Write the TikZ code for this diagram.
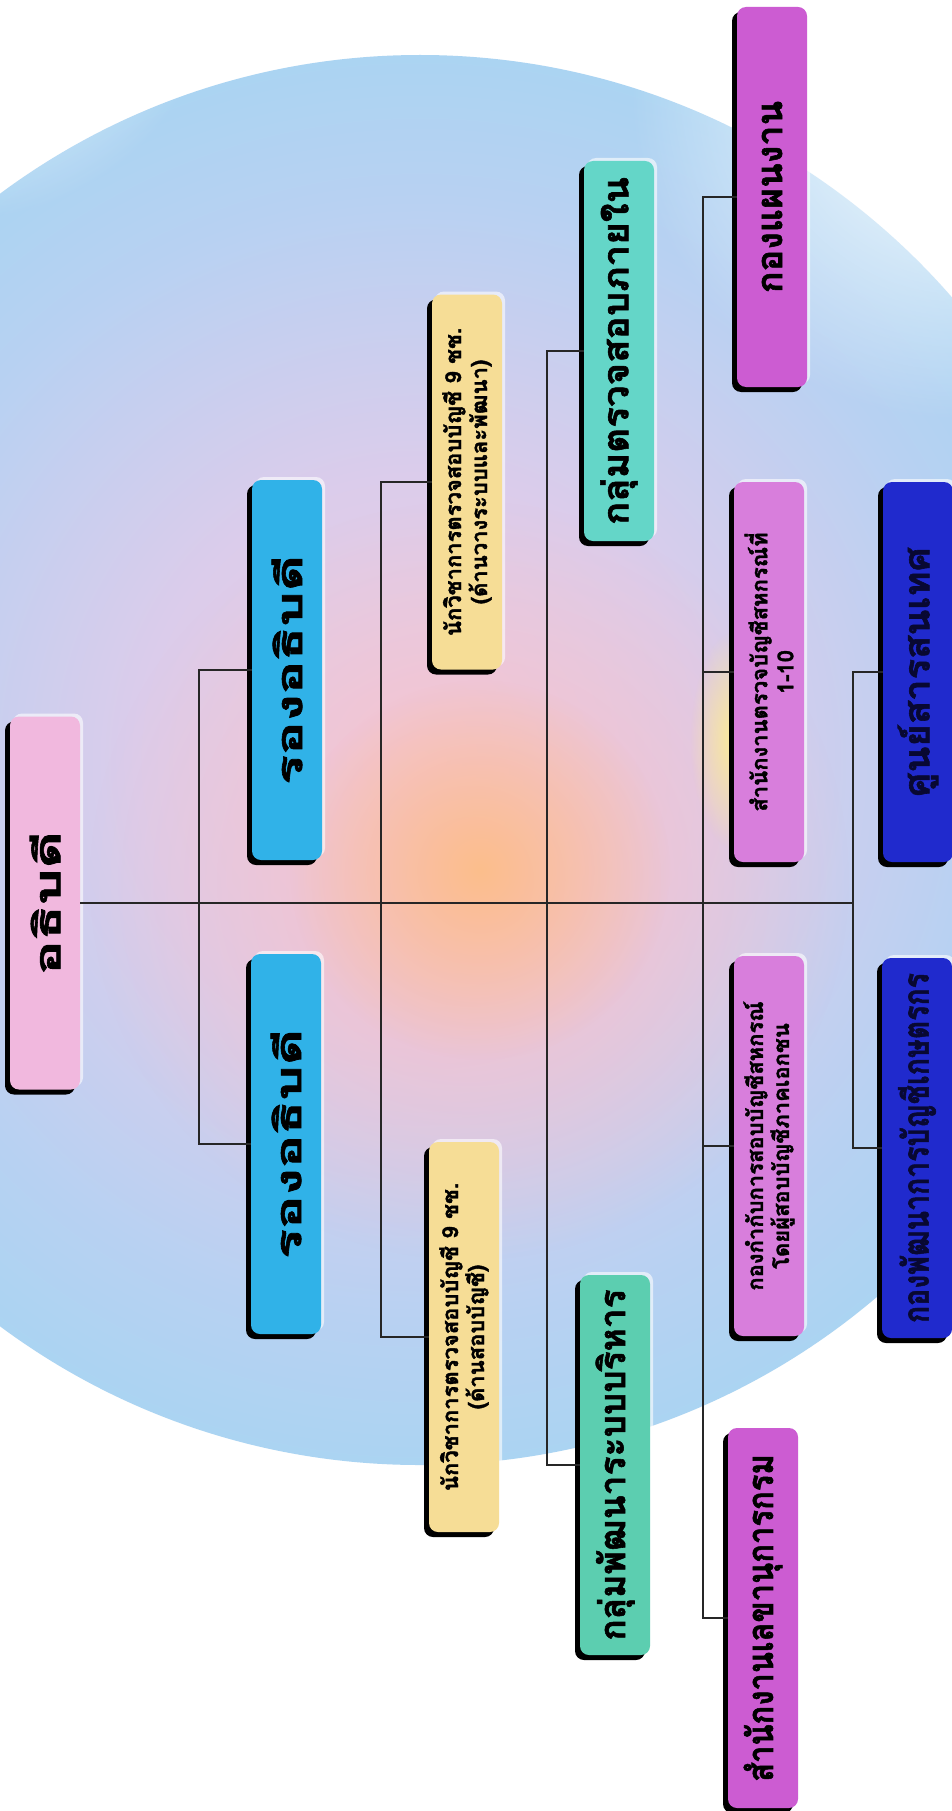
\documentclass[tikz,border=0pt]{standalone}
\usepackage{fontspec}
\usepackage{graphicx}
\newfontfamily\thai[Script=Thai, BoldFeatures={FakeBold=1.6}]{Loma}
\usetikzlibrary{fadings}
\definecolor{chiefpink}{RGB}{241,184,222}
\definecolor{depblue}{RGB}{48,178,232}
\definecolor{sandy}{RGB}{246,221,150}
\definecolor{tealA}{RGB}{100,214,200}
\definecolor{tealB}{RGB}{92,206,176}
\definecolor{purA}{RGB}{204,92,210}
\definecolor{purB}{RGB}{216,126,220}
\definecolor{navy}{RGB}{32,42,205}
\definecolor{navytext}{RGB}{8,8,50}
\definecolor{glowpink}{RGB}{248,192,200}
\definecolor{gloworange}{RGB}{252,190,140}
\definecolor{glowyellow}{RGB}{252,236,150}
\tikzfading[name=glowfade, inner color=transparent!0, outer color=transparent!100]
\pgfdeclareradialshading{sphere}{\pgfpoint{0bp}{0bp}}{rgb(0bp)=(0.93,0.80,0.88); rgb(10bp)=(0.86,0.80,0.92); rgb(20bp)=(0.72,0.82,0.95); rgb(30bp)=(0.62,0.84,0.95); rgb(38bp)=(0.60,0.87,0.96); rgb(44bp)=(0.74,0.92,0.97); rgb(49bp)=(0.95,0.98,0.99); rgb(50bp)=(1,1,1); rgb(100bp)=(1,1,1)}
\begin{document}
\begin{tikzpicture}[x=1pt,y=-1pt,
  box/.style={rotate=90, rounded corners=9pt, minimum height=70pt, minimum width=380pt,
    inner sep=2pt, text=black, align=center,
    preaction={fill=white, opacity=0.6, transform canvas={xshift=3pt,yshift=3pt}},
    preaction={fill=black, transform canvas={xshift=-5pt,yshift=-5pt}}},
  bigtxt/.style={font=\thai\bfseries\fontsize{36}{42}\selectfont},
  smalltxt/.style={font=\thai\bfseries\fontsize{22}{26}\selectfont},
  conn/.style={draw=black!85, line width=1.4pt}]
\useasboundingbox (0,0) rectangle (951,1811);
\fill[white] (0,0) rectangle (951,1811);
\shade[shading=sphere] (420,760) circle (705);
\fill[white, path fading=glowfade] (960,90) circle (330);
\fill[white, path fading=glowfade] (-40,-40) circle (260);
\fill[glowpink, path fading=glowfade] (470,880) circle (380);
\fill[gloworange, path fading=glowfade] (480,870) circle (190);
\fill[glowyellow, path fading=glowfade] (735,740) ellipse (45 and 110);

\coordinate (b1) at (199,0);
\coordinate (b2) at (381,0);
\coordinate (b3) at (547,0);
\coordinate (b4) at (703,0);
\coordinate (b5) at (853,0);

\node[box, fill=chiefpink, bigtxt, minimum width=373pt] (chief) at (45,903) {\scalebox{1.6}[1]{อธิบดี}};
\node[box, fill=depblue, bigtxt] (dep1) at (287,670) {\scalebox{1.55}[1]{รองอธิบดี}};
\node[box, fill=depblue, bigtxt] (dep2) at (286,1144) {\scalebox{1.55}[1]{รองอธิบดี}};
\node[box, fill=sandy, smalltxt, minimum width=375pt] (exp1) at (467,482) {นักวิชาการตรวจสอบบัญชี 9 ชช.\\(ด้านวางระบบและพัฒนา)};
\node[box, fill=sandy, smalltxt, minimum width=390pt] (exp2) at (464,1337) {นักวิชาการตรวจสอบบัญชี 9 ชช.\\(ด้านสอบบัญชี)};
\node[box, fill=tealA, bigtxt] (grp1) at (619,351) {\scalebox{1.07}[1]{กลุ่มตรวจสอบภายใน}};
\node[box, fill=tealB, bigtxt] (grp2) at (615,1465) {\scalebox{0.98}[1]{กลุ่มพัฒนาระบบบริหาร}};
\node[box, fill=purA, bigtxt] (div1) at (772,197) {\scalebox{1.0}[1]{กองแผนงาน}};
\node[box, fill=purB, smalltxt] (div2) at (769,672) {สำนักงานตรวจบัญชีสหกรณ์ที่\\1-10};
\node[box, fill=purB, smalltxt] (div3) at (769,1146) {กองกำกับการสอบบัญชีสหกรณ์\\โดยผู้สอบบัญชีภาคเอกชน};
\node[box, fill=purA, bigtxt] (div4) at (763,1618) {\scalebox{0.86}[1]{สำนักงานเลขานุการกรม}};
\node[box, fill=navy, bigtxt, text=navytext] (ctr1) at (918,672) {\scalebox{1.06}[1]{ศูนย์สารสนเทศ}};
\node[box, fill=navy, bigtxt, text=navytext] (ctr2) at (917,1148) {\scalebox{0.79}[1]{กองพัฒนาการบัญชีเกษตรกร}};

\draw[conn] (chief.south) -- (chief.south -| b5);
\draw[conn] (dep1.north) -- (dep1.north -| b1) -- (dep2.north -| b1) -- (dep2.north);
\draw[conn] (exp1.north) -- (exp1.north -| b2) -- (exp2.north -| b2) -- (exp2.north);
\draw[conn] (grp1.north) -- (grp1.north -| b3) -- (grp2.north -| b3) -- (grp2.north);
\draw[conn] (div1.north) -- (div1.north -| b4) -- (div4.north -| b4) -- (div4.north);
\draw[conn] (div2.north) -- (div2.north -| b4);
\draw[conn] (div3.north) -- (div3.north -| b4);
\draw[conn] (ctr1.north) -- (ctr1.north -| b5) -- (ctr2.north -| b5) -- (ctr2.north);
\end{tikzpicture}
\end{document}
